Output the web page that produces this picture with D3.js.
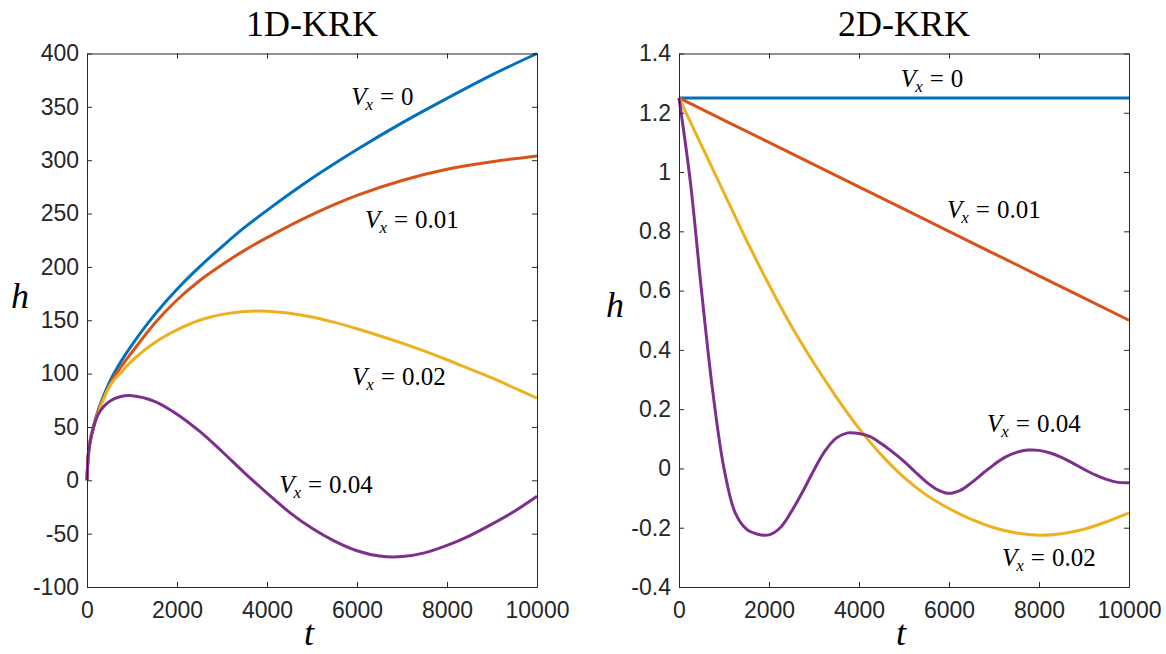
<!DOCTYPE html>
<html>
<head>
<meta charset="utf-8">
<script src="https://cdn.jsdelivr.net/npm/d3@7"></script>
<style>
  body { margin: 0; background: #fff; }
</style>
</head>
<body>
<div class="container"></div>
<script>
// ===== data =====

// 1D-KRK
var t1a = [0,25,50,100,250,500,750,1000,1500,2000,2500,3000,3500,4000,5000,6000,7000,8000,9000,10000];
var h1_v0   = [0,22,31,43,66,92,111,127,155,179,200,219,237,253,283,310,335,358,380,400];
var h1_v001 = [0,22,31,43,65,89,106,120,147,169,187,202,215.5,227.5,249,267,281,291.5,298.5,304];

var t1b = [0,25,50,100,250,500,750,1000,1500,2000,2500,3000,3500,4000,4500,5000,5500,6000,6500,7000,7500,8000,8500,9000,9500,10000];
var h1_v002 = [0,22,31,43,63,88,101,112,129,141,150,155.5,158.3,158.5,156.5,153,148,142,135.5,128.5,121,113,104.5,96,86.5,77];
var h1_v004 = [0,22,31,42,62,74,78.5,79.3,74,62,46,27,7,-12,-30,-45,-57,-66,-71,-71.5,-68,-61,-52,-41,-29,-15];

// 2D-KRK
var t2a = [0,2000,4000,6000,8000,10000];
var h2_v0   = [1.25,1.25,1.25,1.25,1.25,1.25];
var h2_v001 = [1.25,1.10,0.95,0.80,0.65,0.50];

var t2b = [0,500,1000,1500,2000,2500,3000,3500,4000,4500,5000,5500,6000,6500,7000,7500,8000,8500,9000,9500,10000];
var h2_v002 = [1.25,1.09,0.93,0.77,0.62,0.48,0.355,0.24,0.135,0.045,-0.03,-0.09,-0.135,-0.172,-0.2,-0.218,-0.225,-0.22,-0.205,-0.18,-0.15];

var t2c = [0,250,500,750,1000,1250,1500,1750,2000,2250,2500,2750,3000,3250,3500,3750,4000,
           4250,4500,4750,5000,5250,5500,5750,6000,6250,6500,6750,7000,7250,7500,7750,8000,
           8250,8500,8750,9000,9250,9500,9750,10000];
var h2_v004 = [1.25,0.97,0.60,0.26,0.0,-0.15,-0.205,-0.222,-0.224,-0.2,-0.145,-0.078,-0.005,0.06,0.103,0.12,0.118,
               0.107,0.083,0.055,0.024,-0.012,-0.046,-0.072,-0.084,-0.074,-0.048,-0.017,0.013,0.038,0.054,0.062,0.061,
               0.052,0.037,0.018,-0.003,-0.022,-0.037,-0.047,-0.048];

// ticks
var xTicks = [0,2000,4000,6000,8000,10000];
var xTickLabels = ["0","2000","4000","6000","8000","10000"];
var y1Ticks = [-100,-50,0,50,100,150,200,250,300,350,400];
var y1TickLabels = ["-100","-50","0","50","100","150","200","250","300","350","400"];
var y2Ticks = [-0.4,-0.2,0,0.2,0.4,0.6,0.8,1,1.2,1.4];
var y2TickLabels = ["-0.4","-0.2","0","0.2","0.4","0.6","0.8","1","1.2","1.4"];

// curve labels: [text after "=", t, h]
var labels1 = [["0",5870,352],["0.01",6180,236],["0.02",5890,89],["0.04",4270,-12]];
var labels2 = [["0",4930,1.287],["0.01",5956,0.845],["0.04",6844,0.123],["0.02",7178,-0.329]];

var colors = ['#0072BD','#D95319','#EDB120','#7E2F8E'];

/* ===== SET UP ===== */
var W = 1166, H = 654;
var svg = d3.select('.container')
  .append('svg')
  .attr('width', W)
  .attr('height', H)
  .style('background', '#fff');

var axisColor = '#262626';
var tickFont = '23px "Liberation Sans", Arial, sans-serif';
var serif = '"Liberation Serif", "Times New Roman", serif';

function panel(opt) {
  var w = 450, h = 533.5;
  var g = svg.append('g')
    .attr('transform', 'translate(' + opt.left + ',' + opt.top + ')');

  var x = d3.scaleLinear().domain([0, 10000]).range([0, w]);
  var y = d3.scaleLinear().domain(opt.yDomain).range([h, 0]);

  // lines
  var line = d3.line()
    .x(function(d) { return x(d[0]); })
    .y(function(d) { return y(d[1]); })
    .curve(d3.curveCatmullRom.alpha(0.5));

  opt.series.forEach(function(s, i) {
    var pts = s[0].map(function(t, k) { return [t, s[1][k]]; });
    g.append('path')
      .datum(pts)
      .attr('fill', 'none')
      .attr('stroke', colors[i])
      .attr('stroke-width', 3)
      .attr('stroke-linejoin', 'round')
      .attr('d', line);
  });

  // axes (ticks point inward, box on)
  var xb = d3.axisBottom(x).tickValues(xTicks)
    .tickFormat(function(d, i) { return xTickLabels[i]; })
    .tickSizeInner(-5).tickSizeOuter(0).tickPadding(15);
  var xt = d3.axisTop(x).tickValues(xTicks).tickFormat('')
    .tickSizeInner(-5).tickSizeOuter(0);
  var yl = d3.axisLeft(y).tickValues(opt.yTicks)
    .tickFormat(function(d, i) { return opt.yLabels[i]; })
    .tickSizeInner(-5).tickSizeOuter(0).tickPadding(8);
  var yr = d3.axisRight(y).tickValues(opt.yTicks).tickFormat('')
    .tickSizeInner(-5).tickSizeOuter(0);

  [[xb, 'translate(0,' + h + ')'], [xt, 'translate(0,0)'],
   [yl, 'translate(0,0)'], [yr, 'translate(' + w + ',0)']].forEach(function(a) {
    var ag = g.append('g').attr('transform', a[1]).call(a[0]);
    ag.selectAll('path, line').attr('stroke', axisColor).attr('stroke-width', 1);
    ag.selectAll('text').style('font', tickFont).attr('fill', axisColor);
  });

  // title
  g.append('text')
    .attr('x', w / 2)
    .attr('y', -17.5)
    .attr('text-anchor', 'middle')
    .style('font-family', serif)
    .style('font-size', '36px')
    .attr('fill', '#000')
    .text(opt.title);

  // axis labels
  g.append('text')
    .attr('x', w / 2 - 3)
    .attr('y', 591)
    .attr('text-anchor', 'middle')
    .style('font-family', serif)
    .style('font-style', 'italic')
    .style('font-size', '36px')
    .text('t');

  g.append('text')
    .attr('x', opt.hx)
    .attr('y', opt.hy)
    .attr('text-anchor', 'middle')
    .style('font-family', serif)
    .style('font-style', 'italic')
    .style('font-size', '36px')
    .text('h');

  // curve labels
  opt.labels.forEach(function(l) {
    var txt = g.append('text')
      .attr('x', x(l[1]))
      .attr('y', y(l[2]))
      .style('font-family', serif)
      .style('font-size', '25px')
      .attr('fill', '#000');
    txt.append('tspan').style('font-style', 'italic').text('V');
    txt.append('tspan').style('font-style', 'italic').style('font-size', '17px')
      .attr('dx', -1).attr('dy', 5).text('x');
    txt.append('tspan').attr('dx', 7).attr('dy', -5).text('=');
    txt.append('tspan').attr('dx', 7).text(l[0]);
  });
}

panel({
  left: 87, top: 53.5,
  yDomain: [-100, 400],
  yTicks: y1Ticks, yLabels: y1TickLabels,
  title: '1D-KRK',
  hx: -67, hy: 254,
  labels: labels1,
  series: [[t1a, h1_v0], [t1a, h1_v001], [t1b, h1_v002], [t1b, h1_v004]]
});

panel({
  left: 679, top: 53.5,
  yDomain: [-0.4, 1.4],
  yTicks: y2Ticks, yLabels: y2TickLabels,
  title: '2D-KRK',
  hx: -64, hy: 263,
  labels: labels2,
  series: [[t2a, h2_v0], [t2a, h2_v001], [t2b, h2_v002], [t2c, h2_v004]]
});
</script>
</body>
</html>
